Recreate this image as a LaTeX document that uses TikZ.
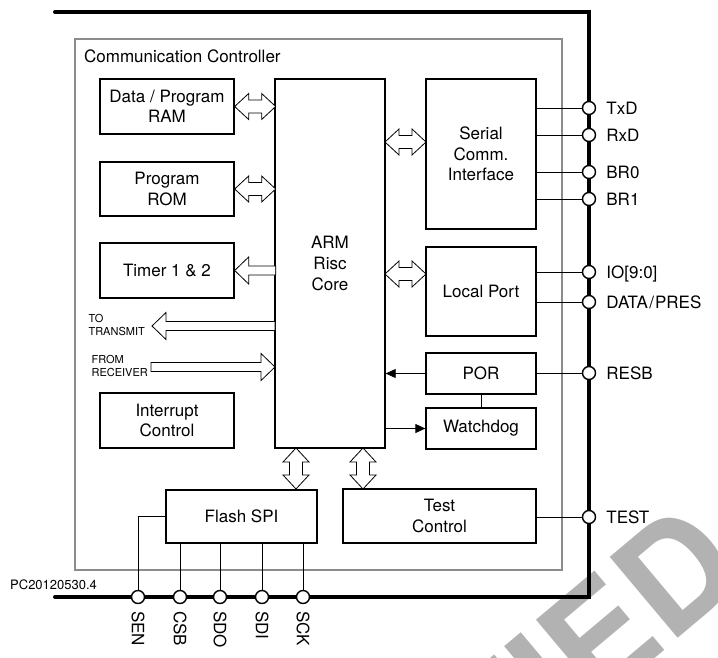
\documentclass[tikz,border=0pt]{standalone}
\usepackage{fontspec}
\setmainfont{TeX Gyre Heros}
\usepackage{tikz}
\usetikzlibrary{positioning, arrows.meta}

\begin{document}
\begin{tikzpicture}[
  x=1pt, y=-1pt,
  font=\fontsize{17}{20.5}\selectfont,
  blk/.style={draw, line width=1.3pt, align=center, inner sep=0pt},
  pinc/.style={circle, draw, fill=white, line width=1.4pt, minimum size=13pt, inner sep=0pt},
  pinlbl/.style={inner sep=0pt, text height=12.2pt, text depth=0pt},
  wire/.style={line width=0.8pt},
  arr/.style={-{Triangle[length=10pt, width=9pt]}, line width=0.8pt},
  hollow/.style={draw, fill=white, line width=0.8pt, line join=miter},
  small/.style={font=\fontsize{11}{13.5}\selectfont, align=left, inner sep=0pt},
  pics/dblarrow/.style={code={
    \draw[hollow] (0,0) -- (14,-13) -- (14,-6.5) -- (27,-6.5) -- (27,-13) -- (41,0)
      -- (27,13) -- (27,6.5) -- (14,6.5) -- (14,13) -- cycle;}},
  pics/sglarrow/.style={code={
    \draw[hollow] (0,0) -- (-14,-13.5) -- (-14,-4.5) -- (-#1,-4.5) -- (-#1,4.5)
      -- (-14,4.5) -- (-14,13.5) -- cycle;}}
]
  \useasboundingbox (0,0) rectangle (718,658);

  % --- Marca de agua (recortada) ---
  \begin{scope}
    \clip (0,0) rectangle (718,658);
    \node[rotate=40, anchor=base west, inner sep=0pt, text=black!30,
      font=\fontsize{145}{145}\selectfont\bfseries] (wmark) at (497,791) {FIED};
  \end{scope}

  % --- Marcos ---
  \draw[line width=4pt, line cap=round] (55,12) -- (589,12) -- (589,597) -- (55,597);
  \draw[black!45, line width=1.5pt] (75,39) rectangle (562,570);
  \node[anchor=west, inner sep=0pt] (cc) at (84,56) {Communication Controller};

  % --- Bloques ---
  \node[blk, minimum width=134pt, minimum height=55pt] (ram)   at (167,106.5) {Data / Program\\RAM};
  \node[blk, minimum width=134pt, minimum height=54pt] (rom)   at (167,189)   {Program\\ROM};
  \node[blk, minimum width=134pt, minimum height=55pt] (timer) at (167,270.5) {Timer 1 \& 2};
  \node[blk, minimum width=134pt, minimum height=55pt] (intr)  at (167,420.5) {Interrupt\\Control};
  \node[blk, minimum width=110pt, minimum height=369pt, font=\fontsize{17}{21}\selectfont] (arm) at (330,263.5) {ARM\\Risc\\Core};
  \node[blk, minimum width=110pt, minimum height=150pt] (sci)   at (481,154)   {Serial\\Comm.\\Interface};
  \node[blk, minimum width=110pt, minimum height=89pt]  (lport) at (481,291.5) {Local Port};
  \node[blk, minimum width=110pt, minimum height=41pt]  (por)   at (481,373.5) {POR};
  \node[blk, minimum width=110pt, minimum height=41pt]  (wdog)  at (481,428.5) {Watchdog};
  \node[blk, minimum width=151pt, minimum height=53pt]  (flash) at (241.5,516.5) {Flash SPI};
  \node[blk, minimum width=193pt, minimum height=54pt]  (testc) at (439.5,516) {Test\\Control};

  % --- Pines laterales ---
  \node[pinc] (txd)  at (589,108) {};
  \node[pinc] (rxd)  at (589,135) {};
  \node[pinc] (br0)  at (589,172) {};
  \node[pinc] (br1)  at (589,199) {};
  \node[pinc] (io)   at (589,272) {};
  \node[pinc] (dpr)  at (589,302) {};
  \node[pinc] (resb) at (589,373) {};
  \node[pinc] (test) at (589,517) {};
  \node[pinlbl, right=10pt of txd]  (ltxd)  {TxD};
  \node[pinlbl, right=10pt of rxd]  (lrxd)  {RxD};
  \node[pinlbl, right=10pt of br0]  (lbr0)  {BR0};
  \node[pinlbl, right=10pt of br1]  (lbr1)  {BR1};
  \node[pinlbl, right=10pt of io]   (lio)   {IO[9:0]};
  \node[pinlbl, right=10pt of dpr]  (ldpr)  {DATA\kern1.5pt/\kern1pt PRES};
  \node[pinlbl, right=10pt of resb] (lresb) {RESB};
  \node[pinlbl, right=10pt of test] (ltest) {TEST};

  % --- Pines inferiores ---
  \node[pinc] (sen) at (138,597) {};
  \node[pinc] (csb) at (180,597) {};
  \node[pinc] (sdo) at (220,597) {};
  \node[pinc] (sdi) at (262,597) {};
  \node[pinc] (sck) at (303,597) {};
  \node[pinlbl, rotate=-90, anchor=west] (lsen) at (138,611) {SEN};
  \node[pinlbl, rotate=-90, anchor=west] (lcsb) at (180,611) {CSB};
  \node[pinlbl, rotate=-90, anchor=west] (lsdo) at (220,611) {SDO};
  \node[pinlbl, rotate=-90, anchor=west] (lsdi) at (262,611) {SDI};
  \node[pinlbl, rotate=-90, anchor=west] (lsck) at (303,611) {SCK};
  \node[font=\fontsize{13}{15}\selectfont, anchor=west, inner sep=0pt] (docid) at (10,585) {PC20120530.4};

  % --- Conexiones ---
  \draw[wire] (sci.east |- txd) -- (txd);
  \draw[wire] (sci.east |- rxd) -- (rxd);
  \draw[wire] (sci.east |- br0) -- (br0);
  \draw[wire] (sci.east |- br1) -- (br1);
  \draw[wire] (lport.east |- io) -- (io);
  \draw[wire] (lport.east |- dpr) -- (dpr);
  \draw[wire] (por.east |- resb) -- (resb);
  \draw[wire] (testc.east |- test) -- (test);
  \draw[wire] (por) -- (wdog);
  \draw[arr] (por.west) -- (arm.east |- por.west);
  \draw[arr] (arm.east |- wdog.west) -- (wdog.west);
  \draw[wire] (flash.west) -| (sen);
  \draw[wire] (flash.south -| csb) -- (csb);
  \draw[wire] (flash.south -| sdo) -- (sdo);
  \draw[wire] (flash.south -| sdi) -- (sdi);
  \draw[wire] (flash.south -| sck) -- (sck);

  % --- Buses (flechas huecas) ---
  \coordinate (sciport) at (385,142);
  \coordinate (lpport)  at (385,274);
  \coordinate (flbus)   at (296,448);
  \coordinate (tcbus)   at (363,448);
  \coordinate (totx)    at (152,326);
  \coordinate (fromrx)  at (275,367);
  \pic at (ram.east) {dblarrow};
  \pic at (rom.east) {dblarrow};
  \pic at (sciport) {dblarrow};
  \pic at (lpport) {dblarrow};
  \pic[rotate=-90] at (flbus) {dblarrow};
  \pic[rotate=-90] at (tcbus) {dblarrow};
  \pic[rotate=180] at (timer.east) {sglarrow=41};
  \pic[rotate=180] at (totx) {sglarrow=123};
  \pic at (fromrx) {sglarrow=124};
  \node[small, anchor=east] (ltx) at (145,325) {TO\\TRANSMIT};
  \node[small, anchor=east] (lrx) at (148,366) {FROM\\RECEIVER};
\end{tikzpicture}
\end{document}
